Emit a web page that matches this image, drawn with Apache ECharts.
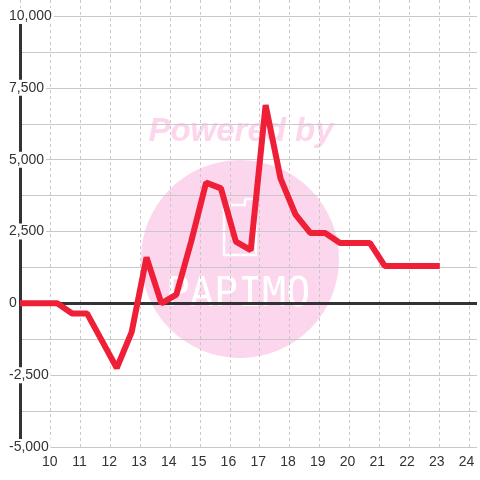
<!DOCTYPE html>
<html>
<head>
<meta charset="utf-8">
<script src="https://cdn.jsdelivr.net/npm/echarts@6/dist/echarts.min.js"></script>
<style>
  html, body { margin: 0; padding: 0; background: #fff; }
  #chart { width: 480px; height: 480px; }
</style>
</head>
<body>
<div id="chart"></div>
<script>
// hour of day, value
const hours = [9, 10.25, 10.75, 11.25, 11.75, 12.25, 12.75, 13.25, 13.75, 14.25, 14.75,
  15.25, 15.75, 16.25, 16.75, 17.25, 17.75, 18.25, 18.75, 19.25, 19.75, 20.25, 20.75,
  21.25, 21.75, 22.25, 22.75, 23.1];
const values = [0, 0, -350, -350, -1300, -2250, -1000, 1600, 0, 300, 2150,
  4200, 4000, 2150, 1850, 6900, 4350, 3100, 2450, 2450, 2100, 2100, 2100,
  1300, 1300, 1300, 1300, 1300];

const X_MIN = 9, X_MAX = 24.35;
const Y_MIN = -5000, Y_MAX = 10000;

const FONT = '"Liberation Sans", Arial, sans-serif';
const PINK = '#fcd6ec';
const GRID = '#c8c8c8';

const chart = echarts.init(document.getElementById('chart'));

chart.setOption({
  animation: false,
  backgroundColor: '#fff',
  textStyle: { fontFamily: FONT },
  grid: [
    { left: 20, right: -1, top: 16, bottom: 33 },
    // same plot but up to the very top, only for the dashed hour lines
    { left: 20, right: -1, top: 0, bottom: 33 }
  ],
  xAxis: [
    {
      type: 'value', gridIndex: 0, min: X_MIN, max: X_MAX, interval: 1,
      axisLine: { show: false, onZero: false },
      axisTick: { show: false },
      splitLine: { show: false },
      axisLabel: {
        color: '#333', fontSize: 14, margin: 8,
        formatter: v => (Number.isInteger(v) && v >= 10 && v <= 24) ? String(v) : ''
      }
    },
    {
      type: 'value', gridIndex: 1, min: X_MIN, max: X_MAX, interval: 1,
      axisLine: { show: false, onZero: false },
      axisTick: { show: false },
      axisLabel: { show: false },
      splitLine: { show: true, lineStyle: { color: GRID, type: [3, 3], width: 1 } }
    }
  ],
  yAxis: [
    {
      type: 'value', gridIndex: 0, min: Y_MIN, max: Y_MAX, interval: 2500,
      axisLine: { show: true, lineStyle: { color: '#333', width: 3 } },
      axisTick: { show: false },
      minorTick: { show: false, splitNumber: 2 },
      splitLine: { show: true, lineStyle: { color: GRID, width: 1 } },
      minorSplitLine: { show: true, lineStyle: { color: GRID, width: 1 } },
      axisLabel: {
        color: '#333', fontSize: 14, margin: 13, align: 'left',
        backgroundColor: '#fff', padding: [1, 2, 1, 2],
        formatter: v => v.toLocaleString('en-US')
      }
    },
    { type: 'value', gridIndex: 1, min: 0, max: 1, show: false }
  ],
  graphic: [
    {
      type: 'circle', z: -10, silent: true,
      shape: { cx: 240, cy: 259, r: 99 },
      style: { fill: PINK }
    },
    {
      type: 'text', z: -10, silent: true, x: 241, y: 148,
      style: {
        text: 'Powered by', fill: PINK, align: 'center', verticalAlign: 'bottom',
        font: 'italic bold 33px "Liberation Sans", Arial, sans-serif'
      }
    },
    {
      type: 'polyline', z: -9, silent: true,
      shape: { points: [[245, 199], [256, 199], [256, 255], [224, 255], [224, 205], [245, 205], [245, 199]] },
      style: { stroke: '#fff', lineWidth: 2.5, fill: null }
    },
    {
      type: 'text', z: -9, silent: true, x: 238, y: 296,
      style: {
        text: 'PAPIMO', fill: '#fff', align: 'center', verticalAlign: 'middle',
        font: '40px "DejaVu Sans Mono", monospace'
      }
    }
  ],
  series: [
    {
      type: 'line', xAxisIndex: 0, yAxisIndex: 0,
      data: hours.map((h, i) => [h, values[i]]),
      showSymbol: false, symbol: 'none',
      lineStyle: { color: '#ef1f37', width: 6, cap: 'butt' },
      markLine: {
        z: 1, silent: true, symbol: ['none', 'none'],
        label: { show: false },
        lineStyle: { color: '#333', width: 3, type: 'solid' },
        data: [{ yAxis: 0 }]
      }
    }
  ]
});
</script>
</body>
</html>
